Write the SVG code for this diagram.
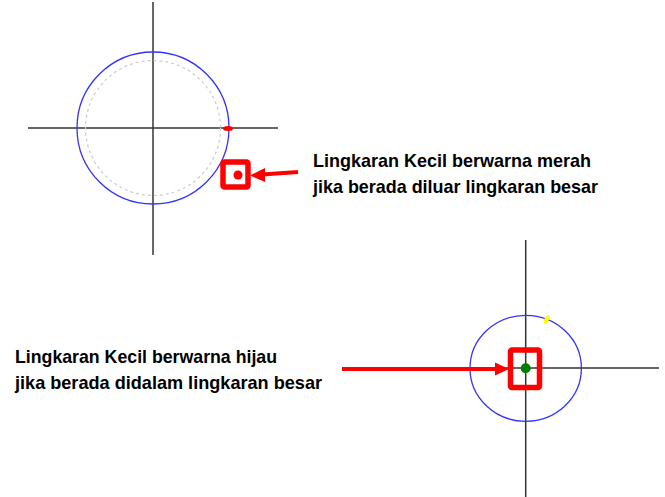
<svg xmlns="http://www.w3.org/2000/svg" width="665" height="497" viewBox="0 0 665 497">
<style>
.axis{stroke:#333;stroke-width:1.5;fill:none}
.big{stroke:#3333ff;stroke-width:1.3;fill:none}
.box{stroke:#ff0000;stroke-width:5.5;fill:none}
.shaft{stroke:#ff0000;stroke-width:4;fill:none}
.lbl{font-family:"Liberation Sans",Arial,sans-serif;font-weight:bold;font-size:18.5px;fill:#000}
</style>
<rect width="665" height="497" fill="#fff"/>
<g id="top-diagram">
<line class="axis" x1="153" y1="2" x2="153" y2="255"/>
<line class="axis" x1="28" y1="128" x2="278" y2="128"/>
<circle cx="153" cy="128" r="67.5" fill="none" stroke="#cccccc" stroke-width="1.2" stroke-dasharray="3,3"/>
<circle class="big" cx="153" cy="128" r="76"/>
<ellipse cx="228" cy="128.5" rx="5" ry="2.5" fill="#ff0000"/>
</g>
<g id="top-marker">
<rect class="box" x="223" y="162" width="25" height="25" rx="1.5"/>
<circle cx="238" cy="175" r="4.5" fill="#ff0000"/>
</g>
<g id="top-label">
<text class="lbl" x="313" y="167" textLength="278" lengthAdjust="spacingAndGlyphs">Lingkaran Kecil berwarna merah</text>
<text class="lbl" x="313" y="193" textLength="285" lengthAdjust="spacingAndGlyphs">jika berada diluar lingkaran besar</text>
</g>
<g id="bottom-diagram">
<line class="axis" x1="525.7" y1="240" x2="525.7" y2="497"/>
<line class="axis" x1="470" y1="368" x2="659" y2="368"/>
<ellipse class="big" cx="525.7" cy="368.3" rx="55.7" ry="53"/>
<ellipse cx="546.7" cy="319.3" rx="2.2" ry="4.5" fill="#ffff00" transform="rotate(30 546.7 319.3)"/>
</g>
<g id="bottom-marker">
<rect class="box" x="510.5" y="350" width="29" height="37.5" rx="1.5"/>
<circle cx="525.7" cy="368.3" r="5" fill="#008000"/>
</g>
<g id="bottom-label">
<text class="lbl" x="15" y="363" textLength="262" lengthAdjust="spacingAndGlyphs">Lingkaran Kecil berwarna hijau</text>
<text class="lbl" x="15" y="389" textLength="307" lengthAdjust="spacingAndGlyphs">jika berada didalam lingkaran besar</text>
</g>
<g id="connectors">
<line class="shaft" x1="298" y1="172" x2="262" y2="174.5"/>
<polygon points="250,175.5 265,168 265,182" fill="#ff0000"/>
<line class="shaft" x1="342" y1="369" x2="497" y2="369"/>
<polygon points="509,369 495,362.5 495,375.5" fill="#ff0000"/>
</g>
</svg>
